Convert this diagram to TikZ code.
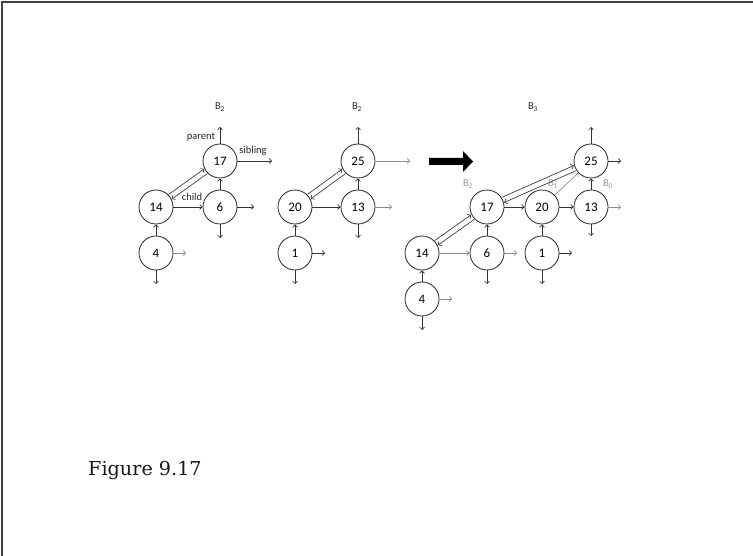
\documentclass[tikz,border=0pt]{standalone}
\usepackage{fontspec}
\setmainfont{Carlito}
\newfontfamily\figfont{DejaVu Serif}
\usetikzlibrary{arrows.meta,calc}
\newcommand\stub[4]{%
  \coordinate (#1#2) at ($(#1.center)+#3$);
  \draw[arr,#4] (#1) -- (#1#2);}
\newcommand\dbl[2]{%
  \draw[arr] ($(#1)!17.5pt!(#2)!2.8pt!90:(#2)$) -- ($(#2)!17.5pt!(#1)!2.8pt!-90:(#1)$);
  \draw[arr] ($(#2)!17.5pt!(#1)!2.8pt!90:(#1)$) -- ($(#1)!17.5pt!(#2)!2.8pt!-90:(#2)$);}
\begin{document}
\begin{tikzpicture}[x=1pt,y=-1pt,
  nd/.style={circle,draw=black!85,line width=0.8pt,minimum size=34pt,inner sep=0pt,font=\fontsize{13}{13}\selectfont},
  arr/.style={draw=black!80,line width=0.65pt,-{Straight Barb[length=2.5pt,width=5pt]}},
  lt/.style={draw=black!45},
  lbl/.style={font=\fontsize{10.5}{10.5}\selectfont,text=black!85,inner sep=0pt},
  glbl/.style={lbl,text=black!40},
]
\useasboundingbox (0,0) rectangle (753,556);
\draw[black!75,line width=1.5pt] (2,556) -- (2,2) -- (753,2);

% left tree
\node[nd] (L17) at (220,161) {17};
\node[nd] (L14) at (156,207) {14};
\node[nd] (L6)  at (220,207) {6};
\node[nd] (L4)  at (156,253) {4};
\node[lbl] (LB) at (220,107) {B\textsubscript{2}};
\node[lbl] (Lparent) at (201,137) {parent};
\node[lbl] (Lsibling) at (253,151) {sibling};
\node[lbl] (Lchild) at (192,197) {child};
\stub{L17}{u}{(0,-34)}{}
\stub{L17}{r}{(52,0)}{}
\stub{L6}{r}{(34,0)}{}
\stub{L6}{d}{(0,31)}{}
\stub{L4}{r}{(30,0)}{lt}
\stub{L4}{d}{(0,31)}{}
\draw[arr] (L14) -- (L6);
\draw[arr] (L6) -- (L17);
\draw[arr] (L4) -- (L14);
\dbl{L14}{L17}

% middle tree
\node[nd] (M25) at (358,161) {25};
\node[nd] (M20) at (295,207) {20};
\node[nd] (M13) at (358,207) {13};
\node[nd] (M1)  at (295,253) {1};
\node[lbl] (MB) at (357,107) {B\textsubscript{2}};
\stub{M25}{u}{(0,-34)}{}
\stub{M25}{r}{(52,0)}{lt}
\stub{M13}{r}{(34,0)}{lt}
\stub{M13}{d}{(0,31)}{}
\stub{M1}{r}{(30,0)}{}
\stub{M1}{d}{(0,31)}{}
\draw[arr] (M20) -- (M13);
\draw[arr] (M13) -- (M25);
\draw[arr] (M1) -- (M20);
\dbl{M20}{M25}

% big arrow
\fill[black] (429,158) -- (463,158) -- (463,151) -- (473,161.5) -- (463,172) -- (463,165) -- (429,165) -- cycle;

% right tree
\node[nd] (R25) at (591,161) {25};
\node[nd] (R17) at (487,207) {17};
\node[nd] (R20) at (542,207) {20};
\node[nd] (R13) at (591,207) {13};
\node[nd] (R14) at (422,253) {14};
\node[nd] (R6)  at (487,253) {6};
\node[nd] (R1)  at (542,253) {1};
\node[nd] (R4)  at (422,299) {4};
\node[lbl] (RB) at (533,107) {B\textsubscript{3}};
\node[glbl] (RB2) at (468,184) {B\textsubscript{2}};
\node[glbl] (RB1) at (553,184) {B\textsubscript{1}};
\node[glbl] (RB0) at (608,184) {B\textsubscript{0}};
\stub{R25}{u}{(0,-34)}{}
\stub{R25}{r}{(30,0)}{}
\stub{R13}{r}{(30,0)}{lt}
\stub{R13}{d}{(0,29)}{}
\stub{R6}{r}{(30,0)}{lt}
\stub{R6}{d}{(0,31)}{}
\stub{R1}{r}{(30,0)}{}
\stub{R1}{d}{(0,31)}{}
\stub{R4}{r}{(30,0)}{lt}
\stub{R4}{d}{(0,31)}{}
\draw[arr] (R17) -- (R20);
\draw[arr] (R20) -- (R13);
\draw[arr] (R13) -- (R25);
\draw[arr,lt] (R20) -- (R25);
\draw[arr,lt] (R14) -- (R6);
\draw[arr] (R6) -- (R17);
\draw[arr] (R1) -- (R20);
\draw[arr] (R4) -- (R14);
\dbl{R14}{R17}
\dbl{R17}{R25}

\node[anchor=base west,inner sep=0pt,font=\figfont\fontsize{19.2}{19.2}\selectfont,text=black!90] (fig) at (88,475) {Figure 9.17};
\end{tikzpicture}
\end{document}
